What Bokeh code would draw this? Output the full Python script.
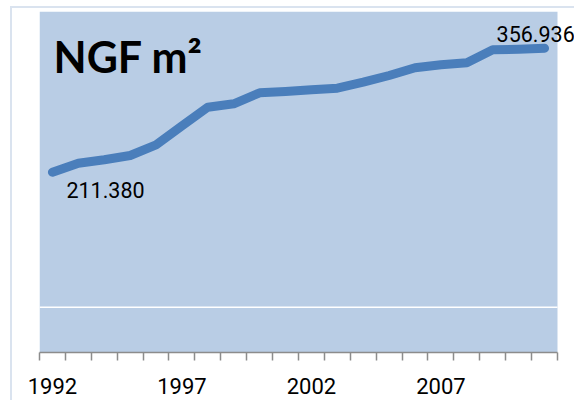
from bokeh.plotting import figure
from bokeh.models import Range1d, FixedTicker, Label
from bokeh.embed import file_html
from bokeh.resources import INLINE

years = list(range(1992, 2012))
ngf = [211380, 222050, 226040, 231090, 243640, 265920, 287740, 291730,
       304630, 306160, 308150, 310030, 317070, 324930, 333960, 337480,
       339820, 355070, 355780, 356936]
tick_years = [1992, 1997, 2002, 2007]
y_min, y_max = 0, 400000
grid_value = 53000
title_text = "NGF m²"


def fmt(v):
    return f"{v:,}".replace(",", ".")


x_lo = years[0] - 0.5
x_hi = years[-1] + 0.5
right_pad = 0.7336  # white margin right of plot area, in years

p = figure(width=564, height=394, output_backend="svg", toolbar_location=None,
           x_range=Range1d(x_lo, x_hi + right_pad),
           y_range=Range1d(y_min, y_max),
           min_border_left=27, min_border_right=0, min_border_top=3,
           min_border_bottom=50)
p.styles = {"position": "absolute", "left": "10px", "top": "6px",
            "border-left": "2px solid #DAE3EF",
            "border-top": "2px solid #DAE3EF"}
p.background_fill_color = "white"
p.border_fill_color = "white"
p.outline_line_color = None
p.xgrid.visible = False
p.ygrid.visible = False
p.yaxis.visible = False

# plot area and its single white gridline
p.quad(left=[x_lo], right=[x_hi], bottom=[y_min], top=[y_max],
       fill_color="#B9CDE5", line_color=None)
p.segment(x0=[x_lo], x1=[x_hi], y0=[grid_value], y1=[grid_value],
          line_color="white", line_width=1.5)

boundaries = [y - 0.5 for y in years] + [x_hi]
p.xaxis.bounds = (x_lo, x_hi)
p.xaxis.ticker = FixedTicker(ticks=tick_years, minor_ticks=boundaries)
p.xaxis.major_tick_out = 0
p.xaxis.major_tick_in = 0
p.xaxis.minor_tick_out = 8
p.xaxis.minor_tick_in = 0
p.xaxis.minor_tick_line_color = "#8C8C8C"
p.xaxis.minor_tick_line_width = 1.5
p.xaxis.axis_line_color = "#8C8C8C"
p.xaxis.axis_line_width = 1.5
p.xaxis.major_label_text_font = "Roboto"
p.xaxis.major_label_text_font_size = "22px"
p.xaxis.major_label_text_color = "black"
p.xaxis.major_label_standoff = 17

p.line(years, ngf, line_width=9, line_color="#4A7EBB",
       line_cap="round", line_join="round")

p.add_layout(Label(x=years[0], y=ngf[0], text=fmt(ngf[0]),
                   x_offset=14, y_offset=-18, text_font="Roboto",
                   text_font_size="21.5px", text_color="black",
                   text_baseline="alphabetic"))
p.add_layout(Label(x=years[-1], y=ngf[-1], text=fmt(ngf[-1]),
                   x_offset=-48, y_offset=14, text_font="Roboto",
                   text_font_size="21.5px", text_color="black",
                   text_baseline="alphabetic"))
p.add_layout(Label(x=x_lo, y=y_max, text=title_text,
                   x_offset=14, y_offset=-45, text_font="Lato",
                   text_font_size="43px", text_font_style="bold",
                   text_color="black", text_baseline="alphabetic"))

open("out.html", "w").write(file_html(p, INLINE))
